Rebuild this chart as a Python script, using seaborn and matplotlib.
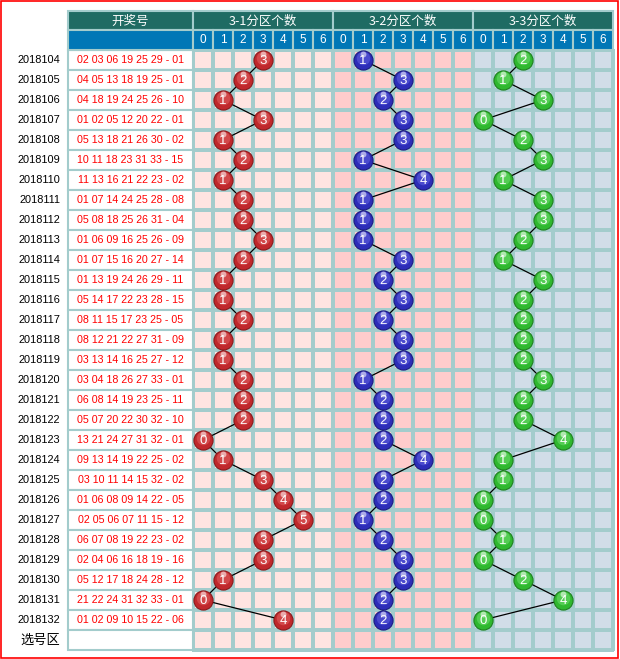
import numpy as np
import pandas as pd
import matplotlib
matplotlib.use("Agg")
import matplotlib.pyplot as plt
import seaborn as sns
from matplotlib.colors import ListedColormap
from matplotlib.patches import Rectangle

periods = ["2018104", "2018105", "2018106", "2018107", "2018108", "2018109", "2018110",
           "2018111", "2018112", "2018113", "2018114", "2018115", "2018116", "2018117",
           "2018118", "2018119", "2018120", "2018121", "2018122", "2018123", "2018124",
           "2018125", "2018126", "2018127", "2018128", "2018129", "2018130", "2018131",
           "2018132"]
draws = ["02 03 06 19 25 29 - 01", "04 05 13 18 19 25 - 01", "04 18 19 24 25 26 - 10",
         "01 02 05 12 20 22 - 01", "05 13 18 21 26 30 - 02", "10 11 18 23 31 33 - 15",
         "11 13 16 21 22 23 - 02", "01 07 14 24 25 28 - 08", "05 08 18 25 26 31 - 04",
         "01 06 09 16 25 26 - 09", "01 07 15 16 20 27 - 14", "01 13 19 24 26 29 - 11",
         "05 14 17 22 23 28 - 15", "08 11 15 17 23 25 - 05", "08 12 21 22 27 31 - 09",
         "03 13 14 16 25 27 - 12", "03 04 18 26 27 33 - 01", "06 08 14 19 23 25 - 11",
         "05 07 20 22 30 32 - 10", "13 21 24 27 31 32 - 01", "09 13 14 19 22 25 - 02",
         "03 10 11 14 15 32 - 02", "01 06 08 09 14 22 - 05", "02 05 06 07 11 15 - 12",
         "06 07 08 19 22 23 - 02", "02 04 06 16 18 19 - 16", "05 12 17 18 24 28 - 12",
         "21 22 24 31 32 33 - 01", "01 02 09 10 15 22 - 06"]
zone1 = [3, 2, 1, 3, 1, 2, 1, 2, 2, 3, 2, 1, 1, 2, 1, 1, 2, 2, 2, 0, 1, 3, 4, 5, 3, 3, 1, 0, 4]
zone2 = [1, 3, 2, 3, 3, 1, 4, 1, 1, 1, 3, 2, 3, 2, 3, 3, 1, 2, 2, 2, 4, 2, 2, 1, 2, 3, 3, 2, 2]
zone3 = [2, 1, 3, 0, 2, 3, 1, 3, 3, 2, 1, 3, 2, 2, 2, 2, 3, 2, 2, 4, 1, 1, 0, 0, 1, 0, 2, 4, 0]
zone_titles = ["3-1分区个数", "3-2分区个数", "3-3分区个数"]
digit_labels = ["0", "1", "2", "3", "4", "5", "6"]
draw_header = "开奖号"
pick_label = "选号区"

GRID = "#a3cccc"
TEAL = "#1f6b63"
BLUE = "#0077b6"
ZONE_BG = ["#ffe4e1", "#ffcccc", "#d1dde8"]
BALL = ["#c0282c", "#2d2db8", "#2fb82f"]
BALL_EDGE = ["#8a1a1c", "#1c1c80", "#1f801f"]
BALL_HI = ["#e87070", "#7070ea", "#80e880"]

NUM_FONT = ["Liberation Sans", "DejaVu Sans"]
CJK_FONT = ["Noto Sans CJK SC", "DejaVu Sans"]

n = len(periods)
nrows = n + 1

fig = plt.figure(figsize=(6.2, 6.59), dpi=100)
ax = fig.add_axes([0, 0, 1, 1])

# background cells via seaborn heatmap
mat = np.repeat(np.array([[0] * 7 + [1] * 7 + [2] * 7]), nrows, axis=0)
sns.heatmap(mat, ax=ax, cmap=ListedColormap(ZONE_BG), vmin=-0.5, vmax=2.5, cbar=False,
            linewidths=1.5, linecolor=GRID, xticklabels=False, yticklabels=False)

# pixel mapping: x_px = 193 + 20*x, y_px = 50 + 20*y
XL = (-193 / 20, (620 - 193) / 20)
YL = ((659 - 50) / 20, -50 / 20)
ax.set_xlim(*XL)
ax.set_ylim(*YL)
ax.axis("off")

left = (68 - 193) / 20
top = (11 - 50) / 20

# draw-number column
for r in range(nrows):
    ax.add_patch(Rectangle((left, r), -left, 1, facecolor="white", edgecolor=GRID, lw=1.5, zorder=2))
# header
ax.add_patch(Rectangle((left, top), -left, -1 - top, facecolor=TEAL, edgecolor=GRID, lw=1.5, zorder=2))
ax.add_patch(Rectangle((left, -1), -left, 1, facecolor=BLUE, edgecolor=GRID, lw=1.5, zorder=2))
ax.text(left / 2, (top - 1) / 2 + 0.03, draw_header, color="white", ha="center", va="center",
        fontsize=9, family=CJK_FONT, zorder=3)
for z in range(3):
    ax.add_patch(Rectangle((7 * z, top), 7, -1 - top, facecolor=TEAL, edgecolor=GRID, lw=1.5, zorder=2))
    ax.text(7 * z + 3.5, (top - 1) / 2 + 0.03, zone_titles[z], color="white", ha="center", va="center",
            fontsize=9, family=CJK_FONT, zorder=3)
    for k, d in enumerate(digit_labels):
        ax.add_patch(Rectangle((7 * z + k, -1), 1, 1, facecolor=BLUE, edgecolor=GRID, lw=1.5, zorder=2))
        ax.text(7 * z + k + 0.5, -0.48, d, color="white", ha="center", va="center",
                fontsize=8.5, family=NUM_FONT, zorder=3)

# row labels and draw numbers
for r in range(n):
    ax.text((60 - 193) / 20, r + 0.52, periods[r], ha="right", va="center", fontsize=7.9,
            family=NUM_FONT, color="black", zorder=3)
    ax.text(left / 2, r + 0.52, draws[r], ha="center", va="center", fontsize=7.7,
            family=NUM_FONT, color="#ff0000", zorder=3)
ax.text((60 - 193) / 20, n + 0.5, pick_label, ha="right", va="center", fontsize=9.5,
        family=CJK_FONT, color="black", zorder=3)

# balls and lines
zones = [zone1, zone2, zone3]
for z, vals in enumerate(zones):
    df = pd.DataFrame({"x": [7 * z + v + 0.5 for v in vals], "y": [r + 0.5 for r in range(n)]})
    sns.lineplot(data=df, x="x", y="y", sort=False, estimator=None, color="black", lw=0.9,
                 ax=ax, zorder=4, legend=False)
    sns.scatterplot(data=df, x="x", y="y", s=190, color=BALL[z], edgecolor=BALL_EDGE[z],
                    linewidth=0.8, ax=ax, zorder=5, legend=False)
    ax.scatter(df["x"], df["y"] - 0.12, s=95, color=BALL_HI[z], alpha=0.45, linewidths=0, zorder=6)
    ax.scatter(df["x"], df["y"] - 0.3, s=18, color="white", alpha=0.55, linewidths=0, zorder=6)
    for xv, yv, v in zip(df["x"], df["y"], vals):
        ax.text(xv, yv + 0.04, str(v), color="white", ha="center", va="center", fontsize=9.5,
                family=NUM_FONT, zorder=7)

ax.set_xlim(*XL)
ax.set_ylim(*YL)
ax.axis("off")

# red outer border
fig.patches.append(Rectangle((0.5 / 620, 1 - 657.5 / 659), 617 / 620, 657 / 659,
                             transform=fig.transFigure, fill=False, edgecolor="#ff0000",
                             lw=1.2, figure=fig))

fig.savefig("out.png", dpi=100)
